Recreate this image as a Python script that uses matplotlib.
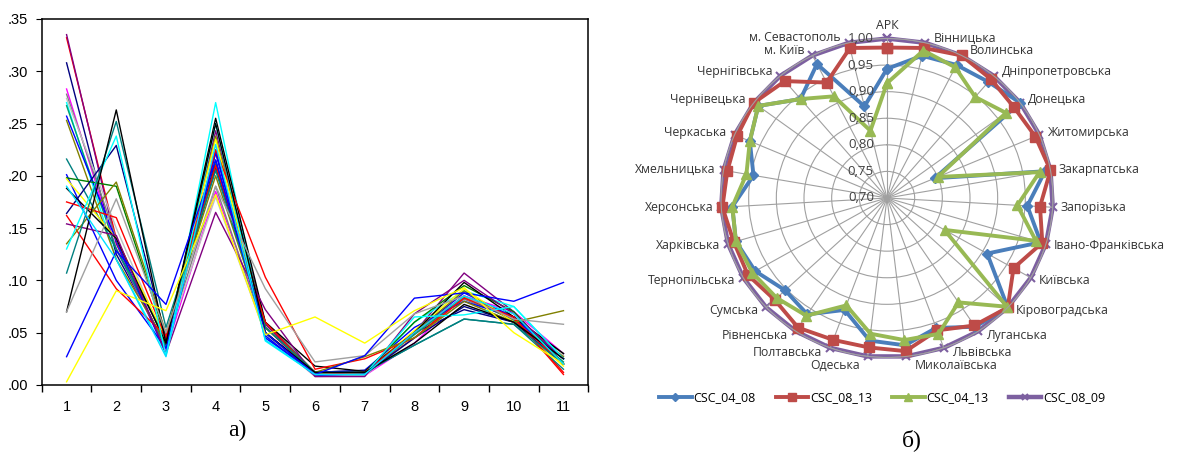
import numpy as np
import matplotlib.pyplot as plt

# ---- panel a): component shares by region (27 lines, 11 components)
components = list(range(1, 12))
line_colors = ['#ff0000', '#800080', '#000080', '#ff00ff', '#808080', '#c0c0c0',
               '#00ffff', '#00a070', '#0000ff', '#808000', '#008080', '#0000ff',
               '#008000', '#ffff00', '#000000', '#000080', '#ff0000', '#ff0000',
               '#800080', '#808000', '#00ffff', '#008080', '#000000', '#a0a0a0',
               '#0000ff', '#ffff00', '#00e0ff']
shares = [
    [.332, .140, .042, .222, .060, .012, .012, .045, .085, .065, .012],
    [.335, .135, .035, .243, .058, .010, .010, .050, .107, .070, .020],
    [.308, .125, .038, .215, .050, .012, .012, .050, .072, .060, .025],
    [.283, .130, .033, .185, .055, .009, .009, .040, .085, .070, .030],
    [.278, .140, .040, .190, .050, .010, .012, .050, .082, .063, .030],
    [.274, .150, .040, .180, .048, .008, .009, .045, .080, .060, .028],
    [.270, .120, .030, .270, .045, .010, .010, .060, .090, .075, .025],
    [.267, .130, .036, .212, .050, .011, .011, .048, .084, .062, .022],
    [.257, .138, .030, .222, .047, .009, .011, .050, .088, .065, .020],
    [.253, .120, .040, .238, .055, .012, .014, .050, .090, .060, .027],
    [.216, .130, .045, .207, .060, .012, .012, .038, .063, .058, .015],
    [.201, .100, .035, .225, .045, .012, .014, .055, .080, .065, .025],
    [.198, .190, .045, .210, .055, .011, .012, .060, .095, .070, .020],
    [.197, .140, .045, .235, .050, .010, .012, .052, .092, .060, .018],
    [.188, .140, .040, .255, .060, .018, .013, .050, .098, .065, .030],
    [.164, .229, .045, .210, .050, .010, .010, .045, .075, .060, .020],
    [.175, .160, .045, .225, .103, .015, .025, .045, .083, .065, .010],
    [.162, .092, .047, .210, .060, .010, .012, .050, .085, .063, .020],
    [.154, .143, .030, .165, .072, .008, .008, .068, .100, .068, .025],
    [.135, .194, .050, .200, .055, .012, .027, .045, .080, .060, .071],
    [.130, .238, .028, .250, .042, .010, .010, .065, .067, .075, .025],
    [.107, .252, .055, .205, .055, .012, .012, .038, .063, .058, .020],
    [.070, .263, .040, .250, .050, .012, .012, .040, .077, .060, .025],
    [.070, .178, .050, .190, .092, .022, .028, .068, .085, .063, .058],
    [.027, .128, .077, .215, .050, .010, .028, .083, .088, .080, .098],
    [.003, .090, .071, .182, .048, .065, .040, .071, .093, .050, .020],
    [.190, .120, .027, .230, .043, .010, .010, .050, .085, .068, .020],
]
y_ticks = [0.0, 0.05, 0.10, 0.15, 0.20, 0.25, 0.30, 0.35]

# ---- panel b): radar of CSC indices by region
regions = ['АРК', 'Вінницька', 'Волинська', 'Дніпропетровська', 'Донецька',
           'Житомирська', 'Закарпатська', 'Запорізька', 'Івано-Франківська',
           'Київська', 'Кіровоградська', 'Луганська', 'Львівська',
           'Миколаївська', 'Одеська', 'Полтавська', 'Рівненська', 'Сумська',
           'Тернопільська', 'Харківська', 'Херсонська', 'Хмельницька',
           'Черкаська', 'Чернівецька', 'Чернігівська', 'м. Київ',
           'м. Севастополь']
csc_04_08 = [0.943, 0.975, 0.980, 0.985, 1.000, 0.794, 0.990, 0.954, 0.990,
             0.909, 1.000, 0.990, 0.960, 0.979, 0.970, 0.924, 0.962, 0.953,
             0.975, 0.985, 0.980, 0.945, 0.970, 0.990, 0.943, 0.982, 0.877]
csc_08_13 = [0.983, 0.990, 1.000, 0.992, 0.986, 0.992, 1.000, 0.977, 0.993,
             0.964, 1.000, 0.987, 0.965, 0.990, 0.983, 0.984, 0.992, 0.979,
             0.990, 0.989, 0.998, 0.993, 0.995, 1.000, 0.987, 0.943, 0.990]
csc_04_13 = [0.916, 0.985, 0.975, 0.948, 0.968, 0.800, 0.980, 0.936, 0.981,
             0.820, 0.998, 0.935, 0.972, 0.969, 0.957, 0.915, 0.965, 0.974,
             0.981, 0.985, 0.980, 0.958, 0.970, 0.990, 0.943, 0.914, 0.830]
csc_08_09 = [1.0] * 27
series_names = ['CSC_04_08', 'CSC_08_13', 'CSC_04_13', 'CSC_08_09']
r_ticks = [0.70, 0.75, 0.80, 0.85, 0.90, 0.95, 1.00]

fig = plt.figure(figsize=(11.79, 4.70), dpi=100)

# ---------------- left chart
ax1 = fig.add_axes([0.0354, 0.181, 0.4636, 0.7787])
for vals, c in zip(shares, line_colors):
    ax1.plot(components, vals, color=c, lw=1.0)
ax1.set_xlim(0.5, 11.5)
ax1.set_ylim(0, 0.35)
ax1.set_xticks(np.arange(0.5, 12, 1))
ax1.set_xticklabels([])
ax1.set_xticks(components, minor=True)
ax1.set_xticklabels([str(c) for c in components], minor=True)
ax1.tick_params(axis='x', which='major', direction='out', length=5, width=1)
ax1.tick_params(axis='x', which='minor', length=0, pad=11, labelsize=10.5)
ax1.set_yticks(y_ticks)
ax1.set_yticklabels([('%.2f' % v).lstrip('0') for v in y_ticks])
ax1.tick_params(axis='y', direction='out', length=4, pad=6, labelsize=10.5)
for lab in ax1.get_xticklabels(minor=True) + ax1.get_yticklabels():
    lab.set_family('Liberation Sans')
for s in ax1.spines.values():
    s.set_linewidth(1.1)

fig.text(237 / 1179, 1 - 430 / 470, 'а)', ha='center', va='center',
         fontsize=17, family='Liberation Serif')

# ---------------- radar chart
ax2 = fig.add_axes([721 / 1179, 1 - 357.5 / 470, 332 / 1179, 319 / 470],
                   projection='polar')
ax2.set_aspect('auto')
ax2.set_theta_zero_location('N')
ax2.set_theta_direction(-1)
theta = np.linspace(0, 2 * np.pi, len(regions), endpoint=False)
ax2.set_ylim(0.70, 1.00)
ax2.set_xticks(theta)
ax2.set_xticklabels([])
ax2.set_yticks(r_ticks)
ax2.set_yticklabels([])
ax2.grid(True, color='#a0a0a0', lw=0.8)
ax2.spines['polar'].set_color('#a0a0a0')
ax2.spines['polar'].set_linewidth(0.8)

styles = [
    (csc_04_08, '#4a7ebb', 'D', 5.5, 2.8),
    (csc_08_13, '#be4b48', 's', 7.5, 2.8),
    (csc_04_13, '#98b954', '^', 7.5, 2.8),
    (csc_08_09, '#7d60a0', 'x', 6, 3.2),
]
th_closed = np.append(theta, theta[0])
handles = []
for (vals, c, m, ms, lw), name in zip(styles, series_names):
    v = np.append(vals, vals[0])
    h, = ax2.plot(th_closed, v, color=c, lw=lw, marker=m, ms=ms,
                  mew=1.5 if m == 'x' else 1, label=name, clip_on=False)
    handles.append(h)
# purple outline sits under the other series
handles[3].set_zorder(1.5)

# category labels
for t, name in zip(theta, regions):
    s, c = np.sin(t), np.cos(t)
    if abs(s) < 0.05:
        ha, dx = 'center', 0
        dy = 13 if c > 0 else -10
    else:
        ha = 'left' if s > 0 else 'right'
        dx = 8 if s > 0 else -8
        dy = (9 if c < -0.95 else 5) * c
    ax2.annotate(name, xy=(t, 1.0), xytext=(dx, dy), textcoords='offset pixels',
                 ha=ha, va='center', fontsize=8.8, color='#333333',
                 family='Open Sans', annotation_clip=False)

# radial value labels
for r in r_ticks:
    ax2.annotate(('%.2f' % r).replace('.', ','), xy=(0, r), xytext=(-13, 0),
                 textcoords='offset pixels', ha='right', va='center',
                 fontsize=9.5, color='#404040', family='Open Sans')

fig.legend(handles=handles, labels=series_names, loc='center',
           bbox_to_anchor=(882 / 1179, 1 - 398 / 470), ncol=4, frameon=False,
           handlelength=2.6, handletextpad=0.15, columnspacing=1.6,
           markerscale=0.8, prop={'family': 'Open Sans', 'size': 9})

fig.text(912 / 1179, 1 - 440 / 470, 'б)', ha='center', va='center',
         fontsize=17, family='Liberation Serif')

fig.savefig('out.png', dpi=100)
